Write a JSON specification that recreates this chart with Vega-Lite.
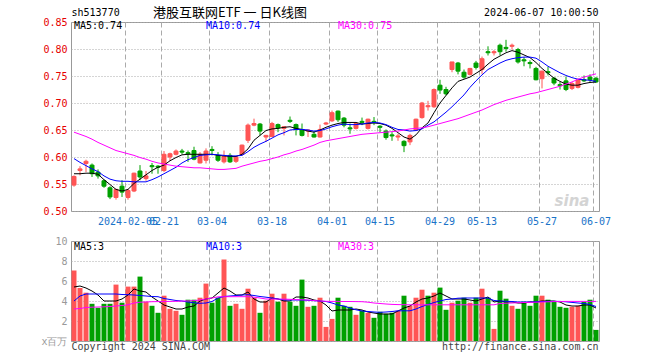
{
  "$schema": "https://vega.github.io/schema/vega-lite/v6.json",
  "background": "white",
  "padding": {"left": 40, "top": 6, "right": 10, "bottom": 4},
  "spacing": 30,
  "bounds": "flush",
  "config": {
    "view": {"stroke": "#999999", "strokeWidth": 1},
    "axis": {"labelFont": "DejaVu Sans Mono", "labelFontSize": 10, "ticks": false, "domain": false, "gridColor": "#aaaaaa", "gridWidth": 1, "labelOverlap": false, "labelFlush": false},
    "text": {"font": "DejaVu Sans Mono", "fontSize": 10}
  },
  "datasets": {
    "k": [
      {"d":"2024-01-23","o":0.548,"h":0.566,"l":0.545,"c":0.564,"v":7.05,"vu":1,"m5":0.569,"m10":0.597,"m30":0.646,"vm5":5.4,"vm10":4.0,"vm30":3.2},
      {"d":"2024-01-24","o":0.575,"h":0.583,"l":0.566,"c":0.578,"v":5.3,"vu":1,"m5":0.569,"m10":0.590,"m30":0.642,"vm5":5.5,"vm10":4.5,"vm30":3.25},
      {"d":"2024-01-25","o":0.588,"h":0.595,"l":0.572,"c":0.592,"v":4.83,"vu":1,"m5":0.570,"m10":0.584,"m30":0.638,"vm5":5.3,"vm10":4.7,"vm30":3.35},
      {"d":"2024-01-26","o":0.585,"h":0.588,"l":0.563,"c":0.569,"v":3.72,"vu":0,"m5":0.570,"m10":0.578,"m30":0.633,"vm5":5.0,"vm10":4.7,"vm30":3.38},
      {"d":"2024-01-29","o":0.572,"h":0.577,"l":0.560,"c":0.565,"v":3.32,"vu":0,"m5":0.568,"m10":0.573,"m30":0.627,"vm5":4.6,"vm10":4.7,"vm30":3.4},
      {"d":"2024-01-30","o":0.556,"h":0.558,"l":0.543,"c":0.546,"v":3.72,"vu":0,"m5":0.558,"m10":0.565,"m30":0.622,"vm5":4.0,"vm10":4.7,"vm30":3.42},
      {"d":"2024-01-31","o":0.543,"h":0.546,"l":0.522,"c":0.526,"v":3.72,"vu":0,"m5":0.549,"m10":0.559,"m30":0.617,"vm5":4.0,"vm10":4.7,"vm30":3.45},
      {"d":"2024-02-01","o":0.525,"h":0.541,"l":0.521,"c":0.540,"v":5.64,"vu":1,"m5":0.540,"m10":0.556,"m30":0.612,"vm5":4.0,"vm10":4.7,"vm30":3.5},
      {"d":"2024-02-02","o":0.546,"h":0.557,"l":0.526,"c":0.535,"v":3.83,"vu":0,"m5":0.537,"m10":0.555,"m30":0.609,"vm5":4.2,"vm10":4.65,"vm30":3.55},
      {"d":"2024-02-05","o":0.525,"h":0.541,"l":0.521,"c":0.538,"v":5.44,"vu":1,"m5":0.540,"m10":0.555,"m30":0.606,"vm5":4.6,"vm10":4.63,"vm30":3.62},
      {"d":"2024-02-06","o":0.537,"h":0.571,"l":0.535,"c":0.570,"v":5.44,"vu":1,"m5":0.551,"m10":0.554,"m30":0.603,"vm5":5.2,"vm10":4.6,"vm30":3.8},
      {"d":"2024-02-07","o":0.574,"h":0.585,"l":0.557,"c":0.563,"v":6.44,"vu":0,"m5":0.559,"m10":0.554,"m30":0.599,"vm5":5.0,"vm10":4.55,"vm30":3.88},
      {"d":"2024-02-08","o":0.560,"h":0.574,"l":0.556,"c":0.565,"v":3.93,"vu":1,"m5":0.567,"m10":0.554,"m30":0.596,"vm5":4.9,"vm10":4.5,"vm30":3.9},
      {"d":"2024-02-19","o":0.584,"h":0.589,"l":0.569,"c":0.582,"v":3.52,"vu":0,"m5":0.575,"m10":0.558,"m30":0.592,"vm5":4.4,"vm10":4.45,"vm30":3.93},
      {"d":"2024-02-20","o":0.583,"h":0.585,"l":0.569,"c":0.581,"v":2.82,"vu":0,"m5":0.581,"m10":0.563,"m30":0.589,"vm5":4.0,"vm10":4.43,"vm30":3.94},
      {"d":"2024-02-21","o":0.575,"h":0.611,"l":0.572,"c":0.605,"v":4.53,"vu":1,"m5":0.585,"m10":0.569,"m30":0.587,"vm5":3.6,"vm10":4.25,"vm30":3.95},
      {"d":"2024-02-22","o":0.600,"h":0.608,"l":0.593,"c":0.606,"v":3.22,"vu":1,"m5":0.593,"m10":0.575,"m30":0.585,"vm5":3.4,"vm10":4.15,"vm30":3.96},
      {"d":"2024-02-23","o":0.605,"h":0.614,"l":0.603,"c":0.611,"v":3.02,"vu":1,"m5":0.599,"m10":0.581,"m30":0.583,"vm5":3.2,"vm10":4.05,"vm30":3.97},
      {"d":"2024-02-26","o":0.611,"h":0.615,"l":0.605,"c":0.609,"v":2.62,"vu":0,"m5":0.604,"m10":0.589,"m30":0.582,"vm5":3.2,"vm10":4.0,"vm30":3.99},
      {"d":"2024-02-27","o":0.608,"h":0.612,"l":0.591,"c":0.606,"v":4.13,"vu":0,"m5":0.605,"m10":0.595,"m30":0.581,"vm5":3.4,"vm10":3.9,"vm30":4.01},
      {"d":"2024-02-28","o":0.612,"h":0.619,"l":0.594,"c":0.596,"v":4.13,"vu":0,"m5":0.605,"m10":0.599,"m30":0.580,"vm5":3.5,"vm10":3.82,"vm30":4.03},
      {"d":"2024-02-29","o":0.589,"h":0.609,"l":0.588,"c":0.605,"v":4.33,"vu":1,"m5":0.605,"m10":0.603,"m30":0.580,"vm5":4.0,"vm10":3.77,"vm30":4.1},
      {"d":"2024-03-01","o":0.594,"h":0.616,"l":0.588,"c":0.611,"v":5.74,"vu":1,"m5":0.605,"m10":0.604,"m30":0.579,"vm5":4.2,"vm10":3.8,"vm30":4.2},
      {"d":"2024-03-04","o":0.614,"h":0.620,"l":0.603,"c":0.612,"v":3.83,"vu":0,"m5":0.605,"m10":0.605,"m30":0.578,"vm5":4.3,"vm10":3.95,"vm30":4.3},
      {"d":"2024-03-05","o":0.603,"h":0.609,"l":0.591,"c":0.594,"v":4.33,"vu":0,"m5":0.603,"m10":0.604,"m30":0.577,"vm5":4.8,"vm10":4.3,"vm30":4.42},
      {"d":"2024-03-06","o":0.591,"h":0.612,"l":0.588,"c":0.601,"v":8.15,"vu":1,"m5":0.602,"m10":0.603,"m30":0.577,"vm5":5.3,"vm10":4.45,"vm30":4.43},
      {"d":"2024-03-07","o":0.603,"h":0.607,"l":0.589,"c":0.591,"v":3.52,"vu":0,"m5":0.601,"m10":0.602,"m30":0.578,"vm5":5.0,"vm10":4.5,"vm30":4.43},
      {"d":"2024-03-08","o":0.592,"h":0.601,"l":0.589,"c":0.600,"v":3.72,"vu":1,"m5":0.601,"m10":0.602,"m30":0.579,"vm5":4.6,"vm10":4.55,"vm30":4.43},
      {"d":"2024-03-11","o":0.605,"h":0.623,"l":0.603,"c":0.622,"v":3.22,"vu":1,"m5":0.605,"m10":0.603,"m30":0.583,"vm5":4.6,"vm10":4.6,"vm30":4.43},
      {"d":"2024-03-12","o":0.631,"h":0.662,"l":0.626,"c":0.659,"v":5.23,"vu":1,"m5":0.615,"m10":0.610,"m30":0.586,"vm5":4.9,"vm10":4.63,"vm30":4.43},
      {"d":"2024-03-13","o":0.659,"h":0.671,"l":0.657,"c":0.662,"v":4.33,"vu":1,"m5":0.631,"m10":0.618,"m30":0.589,"vm5":4.2,"vm10":4.55,"vm30":4.38},
      {"d":"2024-03-14","o":0.661,"h":0.663,"l":0.640,"c":0.648,"v":2.82,"vu":0,"m5":0.640,"m10":0.624,"m30":0.592,"vm5":3.9,"vm10":4.45,"vm30":4.3},
      {"d":"2024-03-15","o":0.637,"h":0.641,"l":0.628,"c":0.640,"v":4.03,"vu":1,"m5":0.649,"m10":0.629,"m30":0.594,"vm5":3.9,"vm10":4.38,"vm30":4.2},
      {"d":"2024-03-18","o":0.638,"h":0.665,"l":0.637,"c":0.662,"v":4.73,"vu":1,"m5":0.652,"m10":0.635,"m30":0.597,"vm5":4.3,"vm10":4.3,"vm30":4.19},
      {"d":"2024-03-19","o":0.660,"h":0.662,"l":0.646,"c":0.654,"v":3.93,"vu":0,"m5":0.653,"m10":0.641,"m30":0.600,"vm5":4.2,"vm10":4.2,"vm30":4.19},
      {"d":"2024-03-20","o":0.653,"h":0.656,"l":0.640,"c":0.656,"v":4.73,"vu":1,"m5":0.655,"m10":0.645,"m30":0.604,"vm5":4.0,"vm10":4.1,"vm30":4.19},
      {"d":"2024-03-21","o":0.668,"h":0.675,"l":0.663,"c":0.666,"v":3.93,"vu":0,"m5":0.656,"m10":0.650,"m30":0.607,"vm5":4.0,"vm10":4.1,"vm30":4.17},
      {"d":"2024-03-22","o":0.660,"h":0.662,"l":0.640,"c":0.651,"v":3.52,"vu":0,"m5":0.653,"m10":0.651,"m30":0.611,"vm5":4.4,"vm10":4.1,"vm30":4.14},
      {"d":"2024-03-25","o":0.651,"h":0.662,"l":0.638,"c":0.640,"v":6.14,"vu":0,"m5":0.651,"m10":0.651,"m30":0.614,"vm5":4.4,"vm10":4.1,"vm30":4.12},
      {"d":"2024-03-26","o":0.648,"h":0.651,"l":0.637,"c":0.650,"v":3.42,"vu":1,"m5":0.648,"m10":0.650,"m30":0.618,"vm5":4.3,"vm10":4.07,"vm30":4.1},
      {"d":"2024-03-27","o":0.642,"h":0.648,"l":0.636,"c":0.637,"v":3.52,"vu":0,"m5":0.646,"m10":0.648,"m30":0.622,"vm5":4.1,"vm10":4.03,"vm30":4.05},
      {"d":"2024-03-28","o":0.637,"h":0.660,"l":0.636,"c":0.651,"v":4.33,"vu":1,"m5":0.650,"m10":0.649,"m30":0.627,"vm5":4.0,"vm10":4.0,"vm30":4.0},
      {"d":"2024-03-29","o":0.661,"h":0.665,"l":0.659,"c":0.663,"v":1.41,"vu":1,"m5":0.655,"m10":0.652,"m30":0.630,"vm5":3.6,"vm10":3.95,"vm30":3.97},
      {"d":"2024-04-01","o":0.667,"h":0.686,"l":0.665,"c":0.682,"v":2.21,"vu":1,"m5":0.659,"m10":0.656,"m30":0.632,"vm5":3.0,"vm10":3.8,"vm30":3.96},
      {"d":"2024-04-02","o":0.685,"h":0.686,"l":0.665,"c":0.669,"v":4.33,"vu":0,"m5":0.662,"m10":0.659,"m30":0.634,"vm5":3.1,"vm10":3.6,"vm30":3.96},
      {"d":"2024-04-03","o":0.672,"h":0.674,"l":0.655,"c":0.659,"v":3.52,"vu":0,"m5":0.664,"m10":0.661,"m30":0.636,"vm5":3.1,"vm10":3.5,"vm30":3.95},
      {"d":"2024-04-08","o":0.654,"h":0.662,"l":0.643,"c":0.652,"v":3.42,"vu":0,"m5":0.664,"m10":0.660,"m30":0.638,"vm5":3.1,"vm10":3.3,"vm30":3.95},
      {"d":"2024-04-09","o":0.653,"h":0.662,"l":0.651,"c":0.662,"v":2.62,"vu":1,"m5":0.664,"m10":0.660,"m30":0.640,"vm5":3.2,"vm10":3.12,"vm30":3.94},
      {"d":"2024-04-10","o":0.666,"h":0.673,"l":0.659,"c":0.664,"v":3.02,"vu":0,"m5":0.661,"m10":0.661,"m30":0.642,"vm5":3.1,"vm10":3.0,"vm30":3.93},
      {"d":"2024-04-11","o":0.653,"h":0.671,"l":0.651,"c":0.670,"v":2.82,"vu":1,"m5":0.662,"m10":0.663,"m30":0.643,"vm5":2.9,"vm10":2.95,"vm30":3.88},
      {"d":"2024-04-12","o":0.666,"h":0.674,"l":0.659,"c":0.664,"v":2.32,"vu":0,"m5":0.663,"m10":0.664,"m30":0.644,"vm5":2.8,"vm10":2.9,"vm30":3.8},
      {"d":"2024-04-15","o":0.657,"h":0.659,"l":0.646,"c":0.655,"v":2.92,"vu":0,"m5":0.662,"m10":0.663,"m30":0.645,"vm5":2.7,"vm10":2.87,"vm30":3.75},
      {"d":"2024-04-16","o":0.648,"h":0.651,"l":0.632,"c":0.636,"v":2.72,"vu":0,"m5":0.659,"m10":0.660,"m30":0.646,"vm5":2.7,"vm10":2.9,"vm30":3.7},
      {"d":"2024-04-17","o":0.641,"h":0.646,"l":0.630,"c":0.639,"v":2.82,"vu":0,"m5":0.653,"m10":0.655,"m30":0.647,"vm5":2.7,"vm10":2.95,"vm30":3.66},
      {"d":"2024-04-18","o":0.637,"h":0.643,"l":0.630,"c":0.639,"v":3.02,"vu":1,"m5":0.645,"m10":0.651,"m30":0.648,"vm5":3.0,"vm10":3.02,"vm30":3.64},
      {"d":"2024-04-19","o":0.629,"h":0.631,"l":0.609,"c":0.621,"v":4.53,"vu":0,"m5":0.637,"m10":0.650,"m30":0.650,"vm5":3.3,"vm10":3.02,"vm30":3.63},
      {"d":"2024-04-22","o":0.628,"h":0.643,"l":0.622,"c":0.640,"v":3.52,"vu":1,"m5":0.633,"m10":0.648,"m30":0.652,"vm5":3.5,"vm10":3.02,"vm30":3.62},
      {"d":"2024-04-23","o":0.650,"h":0.671,"l":0.648,"c":0.670,"v":4.33,"vu":1,"m5":0.641,"m10":0.649,"m30":0.653,"vm5":3.9,"vm10":3.2,"vm30":3.62},
      {"d":"2024-04-24","o":0.673,"h":0.702,"l":0.671,"c":0.700,"v":5.13,"vu":1,"m5":0.654,"m10":0.652,"m30":0.654,"vm5":4.2,"vm10":3.45,"vm30":3.62},
      {"d":"2024-04-25","o":0.693,"h":0.704,"l":0.686,"c":0.695,"v":4.53,"vu":0,"m5":0.663,"m10":0.659,"m30":0.656,"vm5":4.3,"vm10":3.65,"vm30":3.62},
      {"d":"2024-04-26","o":0.693,"h":0.727,"l":0.691,"c":0.725,"v":4.83,"vu":1,"m5":0.682,"m10":0.665,"m30":0.659,"vm5":4.5,"vm10":3.85,"vm30":3.62},
      {"d":"2024-04-29","o":0.733,"h":0.743,"l":0.717,"c":0.724,"v":5.34,"vu":0,"m5":0.700,"m10":0.674,"m30":0.662,"vm5":4.8,"vm10":4.0,"vm30":3.62},
      {"d":"2024-04-30","o":0.725,"h":0.730,"l":0.714,"c":0.717,"v":3.12,"vu":0,"m5":0.714,"m10":0.683,"m30":0.665,"vm5":4.5,"vm10":4.15,"vm30":3.62},
      {"d":"2024-05-06","o":0.762,"h":0.776,"l":0.757,"c":0.776,"v":3.83,"vu":1,"m5":0.728,"m10":0.693,"m30":0.668,"vm5":4.2,"vm10":4.2,"vm30":3.62},
      {"d":"2024-05-07","o":0.774,"h":0.776,"l":0.753,"c":0.759,"v":4.03,"vu":0,"m5":0.740,"m10":0.704,"m30":0.671,"vm5":4.2,"vm10":4.28,"vm30":3.62},
      {"d":"2024-05-08","o":0.757,"h":0.762,"l":0.745,"c":0.748,"v":4.33,"vu":0,"m5":0.744,"m10":0.715,"m30":0.675,"vm5":4.2,"vm10":4.3,"vm30":3.62},
      {"d":"2024-05-09","o":0.753,"h":0.765,"l":0.751,"c":0.764,"v":3.83,"vu":1,"m5":0.748,"m10":0.729,"m30":0.679,"vm5":4.1,"vm10":4.3,"vm30":3.62},
      {"d":"2024-05-10","o":0.774,"h":0.778,"l":0.762,"c":0.766,"v":4.33,"vu":0,"m5":0.755,"m10":0.741,"m30":0.683,"vm5":4.0,"vm10":4.3,"vm30":3.62},
      {"d":"2024-05-13","o":0.762,"h":0.786,"l":0.754,"c":0.782,"v":5.23,"vu":1,"m5":0.762,"m10":0.752,"m30":0.687,"vm5":4.2,"vm10":4.3,"vm30":3.62},
      {"d":"2024-05-14","o":0.795,"h":0.805,"l":0.788,"c":0.793,"v":4.33,"vu":0,"m5":0.772,"m10":0.762,"m30":0.692,"vm5":4.4,"vm10":4.3,"vm30":3.62},
      {"d":"2024-05-15","o":0.793,"h":0.798,"l":0.788,"c":0.795,"v":1.21,"vu":1,"m5":0.781,"m10":0.768,"m30":0.697,"vm5":3.9,"vm10":4.05,"vm30":3.62},
      {"d":"2024-05-16","o":0.807,"h":0.810,"l":0.788,"c":0.795,"v":5.03,"vu":0,"m5":0.787,"m10":0.774,"m30":0.701,"vm5":4.0,"vm10":4.0,"vm30":3.75},
      {"d":"2024-05-17","o":0.803,"h":0.817,"l":0.795,"c":0.801,"v":4.23,"vu":0,"m5":0.793,"m10":0.779,"m30":0.705,"vm5":3.9,"vm10":3.97,"vm30":3.78},
      {"d":"2024-05-20","o":0.805,"h":0.810,"l":0.799,"c":0.807,"v":3.52,"vu":1,"m5":0.797,"m10":0.782,"m30":0.708,"vm5":3.9,"vm10":3.95,"vm30":3.8},
      {"d":"2024-05-21","o":0.799,"h":0.802,"l":0.773,"c":0.776,"v":3.22,"vu":0,"m5":0.794,"m10":0.784,"m30":0.711,"vm5":3.8,"vm10":3.9,"vm30":3.83},
      {"d":"2024-05-22","o":0.780,"h":0.785,"l":0.768,"c":0.778,"v":3.93,"vu":0,"m5":0.789,"m10":0.785,"m30":0.714,"vm5":3.8,"vm10":3.9,"vm30":3.85},
      {"d":"2024-05-23","o":0.775,"h":0.779,"l":0.764,"c":0.773,"v":3.52,"vu":0,"m5":0.784,"m10":0.785,"m30":0.717,"vm5":3.9,"vm10":3.9,"vm30":3.86},
      {"d":"2024-05-24","o":0.764,"h":0.767,"l":0.742,"c":0.743,"v":4.53,"vu":0,"m5":0.775,"m10":0.783,"m30":0.719,"vm5":3.9,"vm10":3.92,"vm30":3.88},
      {"d":"2024-05-27","o":0.745,"h":0.760,"l":0.727,"c":0.759,"v":4.53,"vu":1,"m5":0.764,"m10":0.776,"m30":0.722,"vm5":4.0,"vm10":3.95,"vm30":3.9},
      {"d":"2024-05-28","o":0.758,"h":0.767,"l":0.751,"c":0.756,"v":4.13,"vu":0,"m5":0.755,"m10":0.768,"m30":0.725,"vm5":4.0,"vm10":3.96,"vm30":3.92},
      {"d":"2024-05-29","o":0.746,"h":0.748,"l":0.733,"c":0.737,"v":3.93,"vu":0,"m5":0.746,"m10":0.762,"m30":0.728,"vm5":4.0,"vm10":3.96,"vm30":3.94},
      {"d":"2024-05-30","o":0.734,"h":0.739,"l":0.725,"c":0.732,"v":3.42,"vu":0,"m5":0.740,"m10":0.756,"m30":0.731,"vm5":3.9,"vm10":3.96,"vm30":3.95},
      {"d":"2024-05-31","o":0.741,"h":0.749,"l":0.722,"c":0.725,"v":3.32,"vu":0,"m5":0.735,"m10":0.751,"m30":0.735,"vm5":3.6,"vm10":3.92,"vm30":3.96},
      {"d":"2024-06-03","o":0.727,"h":0.739,"l":0.724,"c":0.736,"v":3.42,"vu":1,"m5":0.733,"m10":0.747,"m30":0.739,"vm5":3.5,"vm10":3.86,"vm30":3.96},
      {"d":"2024-06-04","o":0.729,"h":0.745,"l":0.727,"c":0.743,"v":3.52,"vu":1,"m5":0.733,"m10":0.744,"m30":0.744,"vm5":3.5,"vm10":3.8,"vm30":3.96},
      {"d":"2024-06-05","o":0.743,"h":0.751,"l":0.739,"c":0.741,"v":3.93,"vu":0,"m5":0.736,"m10":0.743,"m30":0.748,"vm5":3.6,"vm10":3.75,"vm30":3.96},
      {"d":"2024-06-06","o":0.748,"h":0.753,"l":0.739,"c":0.743,"v":4.13,"vu":0,"m5":0.738,"m10":0.742,"m30":0.751,"vm5":3.6,"vm10":3.65,"vm30":3.96},
      {"d":"2024-06-07","o":0.746,"h":0.748,"l":0.737,"c":0.739,"v":1.11,"vu":0,"m5":0.739,"m10":0.740,"m30":0.754,"vm5":3.3,"vm10":3.45,"vm30":3.96}
    ]
  },
  "vconcat": [
    {
      "width": 528,
      "height": 189,
      "data": {"name": "k"},
      "encoding": {
        "x": {
          "field": "d", "type": "ordinal", "title": null,
          "scale": {"paddingInner": 0.17, "paddingOuter": 0.085},
          "axis": {
            "values": ["2024-02-05","2024-02-21","2024-03-04","2024-03-18","2024-04-01","2024-04-15","2024-04-29","2024-05-13","2024-05-27","2024-06-07"],
            "labelExpr": "datum.value == '2024-02-05' ? datum.value : slice(datum.value, 5)",
            "bandPosition": 0, "labelAngle": 0, "labelOverlap": false, "labelColor": "#1a73c8",
            "labelPadding": 5, "grid": true, "gridDash": [5, 3], "title": null
          }
        }
      },
      "layer": [
        {
          "mark": {"type": "rule", "strokeWidth": 1},
          "encoding": {
            "y": {"field": "l", "type": "quantitative", "title": null,
              "scale": {"domain": [0.5, 0.85], "nice": false, "zero": false},
              "axis": {"values": [0.5, 0.55, 0.6, 0.65, 0.7, 0.75, 0.8, 0.85], "tickCount": 20, "format": ".2f", "labelColor": "#e60000", "labelPadding": 4, "labelOverlap": false, "labelFlush": false, "grid": true, "gridDash": [1, 2], "title": null}},
            "y2": {"field": "h"},
            "color": {"condition": {"test": "datum.c >= datum.o", "value": "#ff5555"}, "value": "#00a000"}
          }
        },
        {
          "mark": {"type": "bar", "width": {"band": 0.8}, "strokeWidth": 1},
          "encoding": {
            "y": {"field": "o", "type": "quantitative", "title": null},
            "y2": {"field": "c"},
            "fill": {"condition": {"test": "datum.c >= datum.o", "value": "#ff5555"}, "value": "#00a000"},
            "stroke": {"condition": {"test": "datum.c >= datum.o", "value": "#ff5555"}, "value": "#00a000"}
          }
        },
        {"mark": {"type": "line", "strokeWidth": 1, "color": "#000000"}, "encoding": {"y": {"field": "m5", "type": "quantitative", "title": null}}},
        {"mark": {"type": "line", "strokeWidth": 1, "color": "#0000ff"}, "encoding": {"y": {"field": "m10", "type": "quantitative", "title": null}}},
        {"mark": {"type": "line", "strokeWidth": 1, "color": "#ff00ff"}, "encoding": {"y": {"field": "m30", "type": "quantitative", "title": null}}},
        {
          "data": {"values": [{"d": "2024-01-23", "p": 0.866, "t": "sh513770"}]},
          "mark": {"type": "text", "align": "left", "baseline": "middle", "color": "#000000"},
          "encoding": {"x": {"field": "d", "type": "ordinal", "bandPosition": 0}, "y": {"field": "p", "type": "quantitative", "title": null}, "text": {"field": "t"}}
        },
        {
          "data": {"values": [{"d": "2024-03-07", "p": 0.8665, "t": "港股互联网ETF 一 日K线图"}]},
          "mark": {"type": "text", "align": "center", "baseline": "middle", "font": "Noto Sans CJK SC", "fontSize": 13, "color": "#000000"},
          "encoding": {"x": {"field": "d", "type": "ordinal"}, "y": {"field": "p", "type": "quantitative", "title": null}, "text": {"field": "t"}}
        },
        {
          "data": {"values": [{"d": "2024-06-07", "p": 0.866, "t": "2024-06-07 10:00:50"}]},
          "mark": {"type": "text", "align": "right", "baseline": "middle", "color": "#000000"},
          "encoding": {"x": {"field": "d", "type": "ordinal", "bandPosition": 1}, "y": {"field": "p", "type": "quantitative", "title": null}, "text": {"field": "t"}}
        },
        {
          "data": {"values": [
            {"d": "2024-01-23", "p": 0.842, "t": "MA5:0.74", "col": "#000000"},
            {"d": "2024-03-01", "p": 0.842, "t": "MA10:0.74", "col": "#0000ff"},
            {"d": "2024-04-02", "p": 0.842, "t": "MA30:0.75", "col": "#ff00ff"}
          ]},
          "mark": {"type": "text", "align": "left", "baseline": "middle"},
          "encoding": {"x": {"field": "d", "type": "ordinal"}, "y": {"field": "p", "type": "quantitative", "title": null}, "text": {"field": "t"}, "color": {"field": "col", "type": "nominal", "scale": null}}
        },
        {
          "data": {"values": [{"d": "2024-06-03", "p": 0.519, "t": "sina"}]},
          "mark": {"type": "text", "align": "center", "baseline": "middle", "font": "DejaVu Sans", "fontSize": 15, "fontWeight": "bold", "fontStyle": "italic", "color": "#d4d4d4"},
          "encoding": {"x": {"field": "d", "type": "ordinal"}, "y": {"field": "p", "type": "quantitative", "title": null}, "text": {"field": "t"}}
        }
      ]
    },
    {
      "width": 528,
      "height": 100,
      "data": {"name": "k"},
      "encoding": {
        "x": {
          "field": "d", "type": "ordinal", "title": null,
          "scale": {"paddingInner": 0.17, "paddingOuter": 0.085},
          "axis": {
            "values": ["2024-02-05","2024-02-21","2024-03-04","2024-03-18","2024-04-01","2024-04-15","2024-04-29","2024-05-13","2024-05-27","2024-06-07"],
            "bandPosition": 0, "labels": false, "grid": true, "gridDash": [5, 3], "title": null
          }
        }
      },
      "layer": [
        {
          "mark": {"type": "bar"},
          "encoding": {
            "y": {"field": "v", "type": "quantitative", "title": null,
              "scale": {"domain": [0, 10], "nice": false},
              "axis": {"values": [0, 2, 4, 6, 8, 10], "tickCount": 20, "format": "d", "labelExpr": "datum.value == 0 ? 'x百万' : datum.label", "labelColor": "#999999", "labelPadding": 4, "labelOverlap": false, "labelFlush": false, "grid": true, "gridDash": [1, 2], "title": null}},
            "color": {"condition": {"test": "datum.vu == 1", "value": "#ff5555"}, "value": "#00a000"}
          }
        },
        {"mark": {"type": "line", "strokeWidth": 1, "color": "#000000"}, "encoding": {"y": {"field": "vm5", "type": "quantitative", "title": null}}},
        {"mark": {"type": "line", "strokeWidth": 1, "color": "#0000ff"}, "encoding": {"y": {"field": "vm10", "type": "quantitative", "title": null}}},
        {"mark": {"type": "line", "strokeWidth": 1, "color": "#ff00ff"}, "encoding": {"y": {"field": "vm30", "type": "quantitative", "title": null}}},
        {
          "data": {"values": [
            {"d": "2024-01-23", "p": 9.4, "t": "MA5:3", "col": "#000000"},
            {"d": "2024-03-01", "p": 9.4, "t": "MA10:3", "col": "#0000ff"},
            {"d": "2024-04-02", "p": 9.4, "t": "MA30:3", "col": "#ff00ff"}
          ]},
          "mark": {"type": "text", "align": "left", "baseline": "middle"},
          "encoding": {"x": {"field": "d", "type": "ordinal"}, "y": {"field": "p", "type": "quantitative", "title": null}, "text": {"field": "t"}, "color": {"field": "col", "type": "nominal", "scale": null}}
        },
        {
          "data": {"values": [{"d": "2024-01-23", "p": -0.6, "t": "Copyright 2024 SINA.COM"}]},
          "mark": {"type": "text", "align": "left", "baseline": "middle", "color": "#444444"},
          "encoding": {"x": {"field": "d", "type": "ordinal", "bandPosition": 0}, "y": {"field": "p", "type": "quantitative", "title": null}, "text": {"field": "t"}}
        },
        {
          "data": {"values": [{"d": "2024-06-07", "p": -0.6, "t": "http://finance.sina.com.cn"}]},
          "mark": {"type": "text", "align": "right", "baseline": "middle", "color": "#444444"},
          "encoding": {"x": {"field": "d", "type": "ordinal", "bandPosition": 1}, "y": {"field": "p", "type": "quantitative", "title": null}, "text": {"field": "t"}}
        }
      ]
    }
  ]
}
